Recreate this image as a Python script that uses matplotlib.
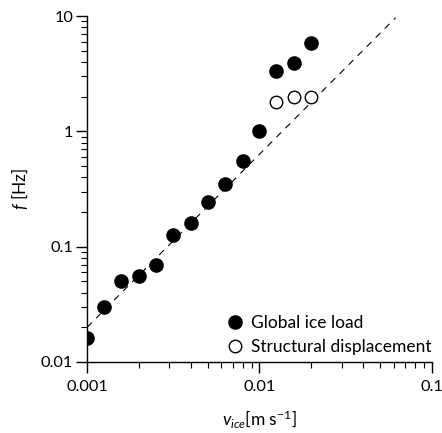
import matplotlib
matplotlib.use("Agg")
import matplotlib.pyplot as plt
import numpy as np

plt.rcParams['font.family'] = ['Lato', 'DejaVu Sans']
plt.rcParams['mathtext.fontset'] = 'custom'
plt.rcParams['mathtext.rm'] = 'Lato'
plt.rcParams['mathtext.it'] = 'Lato:italic'

# Data
v_ice = [0.001, 0.00126, 0.00158, 0.002, 0.0025, 0.00316, 0.004, 0.005,
         0.0063, 0.008, 0.01, 0.0125, 0.0158, 0.02]
f_load = [0.016, 0.030, 0.050, 0.056, 0.070, 0.127, 0.159, 0.243,
          0.350, 0.555, 1.0, 3.35, 3.95, 5.85]
v_disp = [0.0125, 0.0158, 0.02]
f_disp = [1.78, 1.97, 1.97]
fit_v = [0.001, 0.0616]
fit_coef = 0.02
fit_exp = 1.5

fig = plt.figure(figsize=(4.42, 4.33), dpi=100)
ax = fig.add_axes([0.197, 0.164, 0.780, 0.799])

fv = np.array(fit_v)
ax.plot(fv, fit_coef * (fv / 0.001) ** fit_exp, color='black', lw=0.8,
        dashes=(6, 5.5), zorder=1)
ax.plot(v_ice, f_load, 'o', color='black', ms=9.5, zorder=3,
        label='Global ice load')
ax.plot(v_disp, f_disp, 'o', mfc='white', mec='black', mew=1.0, ms=9.0,
        zorder=3, label='Structural displacement')

ax.set_xscale('log')
ax.set_yscale('log')
ax.set_xlim(0.001, 0.1)
ax.set_ylim(0.01, 10)
ax.set_xticks([0.001, 0.01, 0.1])
ax.set_xticklabels(['0.001', '0.01', '0.1'])
ax.set_yticks([0.01, 0.1, 1, 10])
ax.set_yticklabels(['0.01', '0.1', '1', '10'])

for s in ['top', 'right']:
    ax.spines[s].set_visible(False)
for s in ['left', 'bottom']:
    ax.spines[s].set_linewidth(1.0)

ax.tick_params(which='major', length=8, width=1.0, labelsize=11.8, pad=2)
ax.tick_params(which='minor', length=4, width=0.8)
ax.tick_params(axis='x', pad=5)

ax.set_ylabel('$f$ [Hz]', fontsize=12.5, labelpad=8)
ax.set_xlabel('$v_{ice}$[m s$^{-1}$]', fontsize=12.5, labelpad=10)

ax.legend(loc='lower right', bbox_to_anchor=(1.0, 0.02), frameon=False,
          fontsize=12.5, handletextpad=0.35, borderpad=0.0, borderaxespad=0.0,
          labelspacing=0.45, handlelength=1.2)

fig.savefig('out.png', dpi=100)
